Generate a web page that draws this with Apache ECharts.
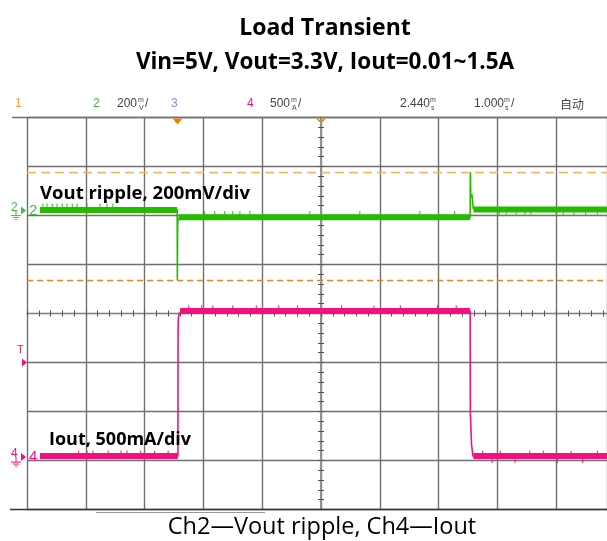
<!DOCTYPE html>
<html><head><meta charset="utf-8">
<script src="https://cdn.jsdelivr.net/npm/echarts@6/dist/echarts.min.js"></script>
<style>html,body{margin:0;padding:0;background:#fff}#c{width:607px;height:541px}</style>
</head><body><div id="c"></div>
<script>
// ---- data (time in ms relative to screen centre; Ch2 in mV relative to its marker; Ch4 in mA) ----
const ch2TraceT  = [-4.78, -2.446, -2.443, -2.438, -2.43, -2.41, 2.536, 2.540, 2.548, 2.566, 2.590, 4.864];
const ch2TraceMV = [2, 2, -284, -60, -32, -27, -27, 157, 55, 66, 8, 5];
const ch2BandT   = [-4.78, -2.447, null, -2.42, 2.535, null, 2.595, 4.864];
const ch2BandMV  = [2, 2, null, -27, -27, null, 5, 5];
const ch2NoiseT  = [-4.73, -4.66, -4.57, -4.49, -4.40, -4.32, -4.23, -4.15, -3.98, -3.76, -3.64, -3.54,
                    -1.98, -1.81, -1.64, -1.50, -1.38, -1.21, -0.19, 0.66, 1.68, 2.27,
                    3.03, 3.15, 3.32, 3.47, 3.57, 4.00, 4.12, 4.30, 4.50, 4.70];
const ch2NoiseMV = [21, 21, 21, 21, 21, 21, 21, 21, 21, 21, 21, 21,
                    -10, -10, -10, -10, -10, -10, -10, -10, -10, -10,
                    -14, -14, -14, -14, -14, -14, -14, -14, -14, -14];
const ch4TraceT  = [-4.78, -2.433, -2.431, -2.425, -2.41, -2.39, 2.537, 2.540, 2.560, 2.585, 4.864];
const ch4TraceMA = [10, 10, 1300, 1420, 1470, 1490, 1490, 447, 128, 10, 10];
const ch4BandT   = [-4.78, -2.436, null, -2.395, 2.535, null, 2.59, 4.864];
const ch4BandMA  = [10, 10, null, 1490, 1490, null, 10, 10];
const ch4NoiseT  = [-4.12, -3.98, -3.88, -3.62, -3.40, -3.30, -3.07, -2.83, -2.60,
                    -2.25, -2.03, -1.84, -1.50, -1.10, -0.72, -0.40, 0.35, 0.90, 1.35, 1.98, 2.30,
                    2.75, 2.91, 3.05, 3.30, 3.55, 3.78, 4.02, 4.25, 4.45, 4.70];
const ch4NoiseMA = [46, 46, 46, 46, 46, 46, 46, 46, 46,
                    1530, 1530, 1530, 1530, 1530, 1530, 1530, 1530, 1530, 1530, 1530, 1530,
                    46, -40, 46, -40, 46, 46, -40, 46, -40, 46];
const cursorMV   = [157.6, -284.5];
const triggerT   = -2.44;

const GREEN = '#25BB00', PINK = '#F2117F';
const pair = (t, v) => t.map((x, i) => [x, v[i]]);
const gaps = (t, v) => t.map((x, i) => x === null ? ['-', '-'] : [x, v[i]]);

const chart = echarts.init(document.getElementById('c'), null, {renderer: 'canvas'});
const gridLine = {show: true, lineStyle: {color: '#707070', width: 1.4}};
const tickStyle = {color: '#555', width: 1};
function xAx(pos, split) {
  return {type: 'value', min: -5, max: 4.864, interval: 1, position: pos,
    axisLine: {onZero: true, onZeroAxisIndex: 0, lineStyle: {color: '#808080', width: 1.2}},
    axisTick: {show: true, length: 3, lineStyle: tickStyle},
    minorTick: {show: true, splitNumber: 5, length: 3, lineStyle: tickStyle},
    axisLabel: {show: false}, splitLine: split ? gridLine : {show: false}};
}
function yAx(pos, split) {
  return {type: 'value', min: -4, max: 4, interval: 1, position: pos,
    axisLine: {onZero: true, onZeroAxisIndex: 0, lineStyle: {color: '#909090', width: 1.6}},
    axisTick: {show: true, length: 3, lineStyle: tickStyle},
    minorTick: {show: true, splitNumber: 5, length: 3, lineStyle: tickStyle},
    axisLabel: {show: false}, splitLine: split ? gridLine : {show: false}};
}
const option = {
  backgroundColor: '#fff',
  animation: false,
  grid: {left: 27, top: 117.5, width: 580, height: 392, containLabel: false, outerBoundsMode: 'none'},
  xAxis: [xAx('bottom', true), xAx('top', false)],
  yAxis: [yAx('left', true), yAx('right', false),
    {type: 'value', min: -1220, max: 380, show: false},
    {type: 'value', min: -535, max: 3465, show: false}],
  series: [
    {type: 'line', name: 'ch2band', xAxisIndex: 0, yAxisIndex: 2, data: gaps(ch2BandT, ch2BandMV),
     showSymbol: false, symbol: 'none', lineStyle: {color: GREEN, width: 6}, z: 3, silent: true,
     markLine: {silent: true, symbol: 'none', label: {show: false},
       data: [{yAxis: cursorMV[0], lineStyle: {color: '#FFB060', type: [9, 5], width: 1.3}},
              {yAxis: cursorMV[1], lineStyle: {color: '#F08020', type: [6, 4], width: 1.3}}]}},
    {type: 'line', name: 'ch2', xAxisIndex: 0, yAxisIndex: 2, data: pair(ch2TraceT, ch2TraceMV),
     showSymbol: false, symbol: 'none', lineStyle: {color: GREEN, width: 1.6}, z: 4},
    {type: 'scatter', name: 'ch2noise', xAxisIndex: 0, yAxisIndex: 2, data: pair(ch2NoiseT, ch2NoiseMV),
     symbol: 'rect', symbolSize: [1.2, 4], itemStyle: {color: GREEN}, z: 4, silent: true},
    {type: 'line', name: 'ch4band', xAxisIndex: 0, yAxisIndex: 3, data: gaps(ch4BandT, ch4BandMA),
     showSymbol: false, symbol: 'none', lineStyle: {color: PINK, width: 6}, z: 3},
    {type: 'line', name: 'ch4', xAxisIndex: 0, yAxisIndex: 3, data: pair(ch4TraceT, ch4TraceMA),
     showSymbol: false, symbol: 'none', lineStyle: {color: PINK, width: 1.6}, z: 4},
    {type: 'scatter', name: 'ch4noise', xAxisIndex: 0, yAxisIndex: 3, data: pair(ch4NoiseT, ch4NoiseMA),
     symbol: 'rect', symbolSize: [1.2, 4], itemStyle: {color: PINK}, z: 4, silent: true}
  ]
};
chart.setOption(option);

const trigX = chart.convertToPixel({xAxisIndex: 0}, triggerT);
const cx = chart.convertToPixel({xAxisIndex: 0}, 0);
const ref2 = chart.convertToPixel({yAxisIndex: 2}, 0);
const ref4 = chart.convertToPixel({yAxisIndex: 3}, 0);
const trigY = chart.convertToPixel({yAxisIndex: 0}, -1);
const topY = chart.convertToPixel({yAxisIndex: 0}, 4);
const botY = chart.convertToPixel({yAxisIndex: 0}, -4);

function txt(x, y, s, fill, font, align) {
  return {type: 'text', x: x, y: y, z: 20, silent: true,
          style: {text: s, fill: fill, font: font, textAlign: align || 'left', textVerticalAlign: 'middle'}};
}
const hdrFont = '12px "Liberation Sans", sans-serif';
const tinyFont = '7px "Liberation Sans", sans-serif';
const GRAY = '#444';
function ground(x, y, c) {
  return [
    {type: 'line', shape: {x1: x, y1: y, x2: x, y2: y + 5}, style: {stroke: c, lineWidth: 1}, z: 20},
    {type: 'line', shape: {x1: x - 5, y1: y + 5, x2: x + 5, y2: y + 5}, style: {stroke: c, lineWidth: 1}, z: 20},
    {type: 'line', shape: {x1: x - 3, y1: y + 7, x2: x + 3, y2: y + 7}, style: {stroke: c, lineWidth: 1}, z: 20},
    {type: 'line', shape: {x1: x - 1, y1: y + 9, x2: x + 1, y2: y + 9}, style: {stroke: c, lineWidth: 1}, z: 20}
  ];
}
function chMarker(y, label, c) {
  return [
    txt(11, y - 3, label, c, '12px "Liberation Sans", sans-serif'),
    {type: 'polygon', shape: {points: [[21, y - 4], [21, y + 4], [26, y]]}, style: {fill: c}, z: 20},
    txt(29, y, label, c, '15px "Liberation Sans", sans-serif')
  ].concat(ground(16, y, c));
}

chart.setOption({graphic: [
  txt(325, 28, 'Load Transient', '#000', 'bold 23px "Open Sans", sans-serif', 'center'),
  txt(325, 63, 'Vin=5V, Vout=3.3V, Iout=0.01~1.5A', '#000', 'bold 22.5px "Open Sans", sans-serif', 'center'),
  txt(322, 527, 'Ch2\u2014Vout ripple, Ch4\u2014Iout', '#000', '23.5px "Open Sans", sans-serif', 'center'),
  // header
  txt(15, 104, '1', '#F5A040', hdrFont),
  txt(93, 104, '2', '#44BB44', hdrFont),
  txt(117, 104, '200', GRAY, hdrFont),
  txt(138, 100, 'm', GRAY, tinyFont), txt(139, 108, 'V', GRAY, tinyFont),
  txt(145, 104, '/', GRAY, hdrFont),
  txt(171, 104, '3', '#7C8CF0', hdrFont),
  txt(247, 104, '4', PINK, hdrFont),
  txt(270, 104, '500', GRAY, hdrFont),
  txt(291, 100, 'm', GRAY, tinyFont), txt(292, 108, 'A', GRAY, tinyFont),
  txt(298, 104, '/', GRAY, hdrFont),
  txt(400, 104, '2.440', GRAY, hdrFont),
  txt(430, 100, 'm', GRAY, tinyFont), txt(431, 108, 's', GRAY, tinyFont),
  txt(474, 104, '1.000', GRAY, hdrFont),
  txt(504, 100, 'm', GRAY, tinyFont), txt(505, 108, 's', GRAY, tinyFont),
  txt(511, 104, '/', GRAY, hdrFont),
  txt(560, 104, '自动', GRAY, '12px "Noto Sans CJK SC", sans-serif'),
  // frame extensions
  {type: 'line', shape: {x1: 12, y1: topY, x2: 607, y2: topY}, style: {stroke: '#707070', lineWidth: 1.6}, z: 15},
  {type: 'line', shape: {x1: 10, y1: botY, x2: 607, y2: botY}, style: {stroke: '#333', lineWidth: 1.4}, z: 15},
  {type: 'line', shape: {x1: 96, y1: botY + 3, x2: 265, y2: botY + 3}, style: {stroke: '#999', lineWidth: 1}, z: 15},
  // trigger position marker
  {type: 'polygon', shape: {points: [[trigX - 5, topY + 1], [trigX + 5, topY + 1], [trigX, topY + 7]]}, style: {fill: '#F08000'}, z: 20},
  {type: 'polyline', shape: {points: [[cx - 4, topY + 1], [cx, topY + 5], [cx + 4, topY + 1]]}, style: {stroke: '#F08000', lineWidth: 1.5, fill: null}, z: 20},
  // channel markers
  ...chMarker(ref2, '2', '#44BB44'),
  ...chMarker(ref4, '4', PINK),
  txt(17, trigY - 13, 'T', PINK, '11px "Liberation Sans", sans-serif'),
  {type: 'polygon', shape: {points: [[22, trigY - 4], [22, trigY + 4], [27, trigY]]}, style: {fill: PINK}, z: 20},
  // annotations
  txt(40, 194, 'Vout ripple, 200mV/div', '#000', 'bold 18.5px "Open Sans", sans-serif'),
  txt(49, 440, 'Iout, 500mA/div', '#000', 'bold 18px "Open Sans", sans-serif')
]});
</script></body></html>
